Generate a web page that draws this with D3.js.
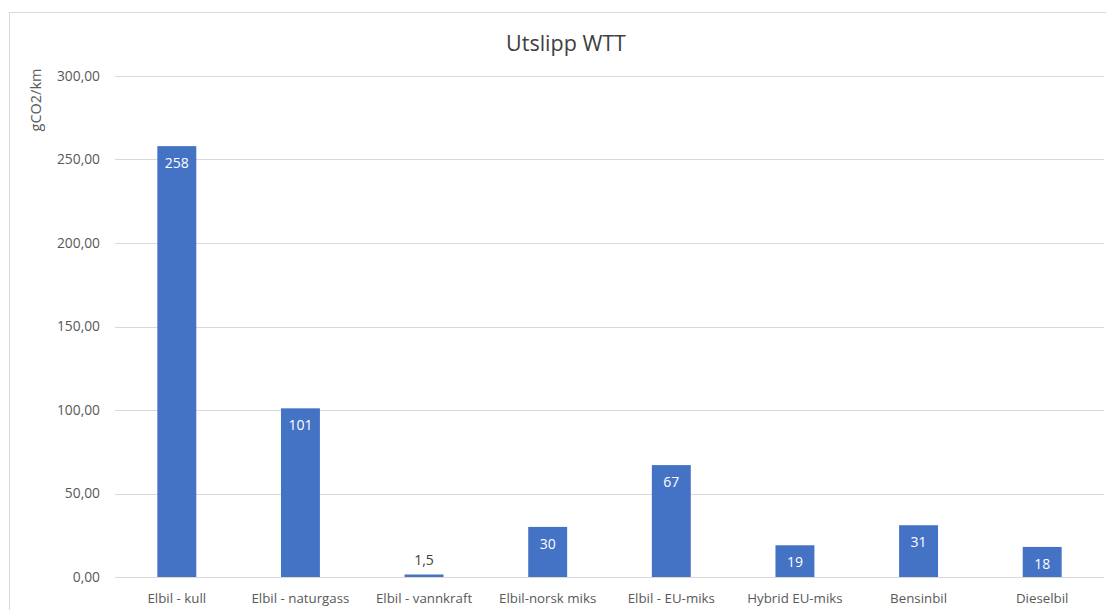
<!DOCTYPE html>
<html>
<head>
<meta charset="utf-8">
<script src="https://cdn.jsdelivr.net/npm/d3@7"></script>
<style>
  html, body { margin: 0; padding: 0; background: #fff; }
  svg { display: block; font-family: "Open Sans", "Noto Sans", sans-serif; }
</style>
</head>
<body>
<svg id="chart" width="1106" height="610"></svg>
<script>
// WTT emissions per vehicle type (gCO2/km)
const categories = ["Elbil - kull", "Elbil - naturgass", "Elbil - vannkraft", "Elbil-norsk miks",
                    "Elbil - EU-miks", "Hybrid EU-miks", "Bensinbil", "Dieselbil"];
const values = [258, 101, 1.5, 30, 67, 19, 31, 18];
const valueLabels = ["258", "101", "1,5", "30", "67", "19", "31", "18"];
const yTicks = [0, 50, 100, 150, 200, 250, 300];
const yTickLabels = ["0,00", "50,00", "100,00", "150,00", "200,00", "250,00", "300,00"];

const svg = d3.select("#chart");
const W = 1106, H = 610;
const margin = { left: 115, right: 2, top: 76, bottom: 33 };

// chart frame
svg.append("rect")
  .attr("x", 9.5).attr("y", 12.5)
  .attr("width", W + 10).attr("height", H + 10)
  .attr("fill", "#fff").attr("stroke", "#d9d9d9").attr("stroke-width", 1);

const x = d3.scaleBand()
  .domain(categories)
  .range([margin.left, W - margin.right])
  .paddingInner(0.685).paddingOuter(0.3425);

const y = d3.scaleLinear()
  .domain([0, 300])
  .range([H - margin.bottom, margin.top]);

// gridlines
svg.append("g")
  .selectAll("line")
  .data(yTicks)
  .join("line")
  .attr("x1", margin.left).attr("x2", W - margin.right)
  .attr("y1", d => Math.round(y(d)) + 0.5).attr("y2", d => Math.round(y(d)) + 0.5)
  .attr("stroke", "#d9d9d9").attr("stroke-width", 1.2);

// y tick labels
svg.append("g")
  .selectAll("text")
  .data(yTicks)
  .join("text")
  .attr("x", 100)
  .attr("y", d => y(d))
  .attr("dy", "0.35em")
  .attr("text-anchor", "end")
  .attr("font-size", 13.8)
  .attr("fill", "#595959")
  .text((d, i) => yTickLabels[i]);

// bars
svg.append("g")
  .selectAll("rect")
  .data(values)
  .join("rect")
  .attr("x", (d, i) => x(categories[i]))
  .attr("width", x.bandwidth())
  .attr("y", d => y(d))
  .attr("height", d => y(0) - y(d))
  .attr("fill", "#4472c4");

// value labels: inside the bar, or above it when the bar is too short
svg.append("g")
  .selectAll("text")
  .data(values)
  .join("text")
  .attr("x", (d, i) => x(categories[i]) + x.bandwidth() / 2)
  .attr("y", d => (y(0) - y(d) > 25 ? y(d) + 17 : y(d) - 14))
  .attr("dy", "0.35em")
  .attr("text-anchor", "middle")
  .attr("font-size", 14)
  .attr("fill", d => (y(0) - y(d) > 25 ? "#ffffff" : "#404040"))
  .text((d, i) => valueLabels[i]);

// category labels
svg.append("g")
  .selectAll("text")
  .data(categories)
  .join("text")
  .attr("x", d => x(d) + x.bandwidth() / 2)
  .attr("y", 598)
  .attr("dy", "0.35em")
  .attr("text-anchor", "middle")
  .attr("font-size", 13.3)
  .attr("fill", "#595959")
  .text(d => d);

// title
svg.append("text")
  .attr("x", 566).attr("y", 43)
  .attr("dy", "0.35em")
  .attr("text-anchor", "middle")
  .attr("font-size", 21.5)
  .attr("fill", "#404040")
  .text("Utslipp WTT");

// y axis title
svg.append("text")
  .attr("transform", "translate(36,100) rotate(-90)")
  .attr("dy", "0.35em")
  .attr("text-anchor", "middle")
  .attr("font-size", 14.5)
  .attr("fill", "#595959")
  .text("gCO2/km");
</script>
</body>
</html>
